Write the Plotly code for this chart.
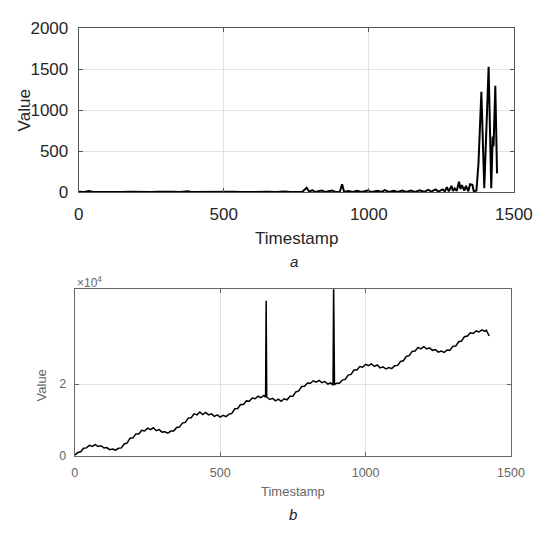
import plotly.graph_objects as go

W, H = 552, 533

# ---- panel a data ----
a_x = [0, 20, 35, 50, 75, 100, 125, 150, 175, 200, 225, 250, 275, 300, 325, 350, 375, 390,
       420, 450, 480, 500, 530, 560, 590, 620, 650, 680, 710, 730, 755, 770, 786, 795, 805,
       815, 838, 850, 873, 885, 900, 908, 915, 930, 945, 960, 975, 995, 1010, 1030, 1045,
       1055, 1070, 1085, 1100, 1115, 1130, 1145, 1160, 1175, 1190, 1205, 1215, 1230, 1240,
       1255, 1262, 1269, 1276, 1285, 1290, 1296, 1303, 1311, 1316, 1321, 1329, 1335, 1343,
       1349, 1357, 1362, 1371, 1378, 1388, 1398, 1404, 1413, 1422, 1427, 1430, 1436, 1442]
a_y = [5, 3, 14, 3, 4, 2, 6, 2, 5, 2, 6, 3, 7, 2, 6, 3, 12, 3,
       5, 2, 6, 2, 5, 2, 6, 2, 5, 2, 10, 3, 8, 3, 55, 5, 25,
       4, 20, 4, 22, 4, 5, 98, 4, 15, 3, 18, 3, 20, 3, 18, 4,
       25, 4, 18, 4, 20, 4, 20, 4, 22, 5, 30, 8, 35, 8,
       35, 10, 60, 12, 78, 15, 47, 15, 129, 40, 86, 20, 78, 12,
       98, 90, 10, 20, 350, 1224, 50, 640, 1530, 50, 680, 560, 1300, 230]

# ---- panel b data ----
b_x = [0, 10, 20, 30, 40, 50, 60, 70, 80, 90, 100, 110, 120, 130, 140, 150, 160, 170, 180, 190,
       200, 210, 220, 230, 240, 250, 260, 270, 280, 290, 300, 310, 320, 330, 340, 350, 360, 370,
       380, 390, 400, 410, 420, 430, 440, 450, 460, 470, 480, 490, 500, 510, 520, 530, 540, 550,
       560, 570, 580, 590, 600, 610, 620, 630, 640, 650, 656, 658, 660, 670, 680, 690, 700, 710,
       720, 730, 740, 750, 760, 770, 780, 790, 800, 810, 820, 830, 840, 850, 860, 870, 880, 888,
       890, 893, 900, 910, 920, 930, 940, 950, 960, 970, 980, 990, 1000, 1010, 1020, 1030, 1040,
       1050, 1060, 1070, 1080, 1090, 1100, 1110, 1120, 1130, 1140, 1150, 1160, 1170, 1180, 1190,
       1200, 1210, 1220, 1230, 1240, 1250, 1260, 1270, 1280, 1290, 1300, 1310, 1320, 1330, 1340,
       1350, 1360, 1370, 1380, 1390, 1400, 1410, 1415, 1420, 1425]
b_y = [200, 900, 1100, 2100, 2200, 2900, 2600, 3100, 2600, 2800, 2200, 2300, 1700, 1900, 1600,
       2100, 2200, 3300, 3600, 4900, 5000, 6100, 6100, 7100, 6900, 7700, 7300, 7800, 7000, 7300,
       6600, 6700, 6300, 6900, 6900, 7900, 8000, 9100, 9300, 10500, 10600, 11700, 11400, 12200,
       11500, 12100, 11400, 11700, 11000, 11400, 10800, 11300, 10900, 11600, 11800, 13100, 13200,
       14300, 14300, 15300, 15200, 16100, 15900, 16600, 16200, 16800, 16300, 43200, 16400, 15700,
       16000, 15300, 15800, 15200, 15900, 15600, 16600, 16600, 17800, 18100, 19300, 19400, 20300,
       20200, 20900, 20500, 21000, 20400, 20700, 20000, 20300, 19700, 47500, 19900, 20200, 20200,
       21100, 21300, 22500, 22700, 23900, 23900, 24900, 24700, 25500, 25100, 25600, 24900, 25300,
       24500, 24800, 24200, 24600, 24300, 25100, 25200, 26300, 26500, 27700, 27900, 29100, 29200,
       30200, 29800, 30400, 29800, 30100, 29400, 29600, 28900, 29200, 28800, 29500, 29400, 30500,
       30600, 31800, 32000, 33200, 33400, 34300, 34100, 34800, 34500, 35100, 34700, 35000, 34000,
       33400]

a_xticks = [0, 500, 1000, 1500]
a_yticks = [0, 500, 1000, 1500, 2000]
b_xticks = [0, 500, 1000, 1500]
b_yticks = [0, 20000]
b_yticktext = ["0", "2"]

FONT = "Liberation Sans, Arial, sans-serif"


def px(x):
    return x / W


def py(y):
    return 1 - y / H


fig = go.Figure()
fig.add_trace(go.Scatter(x=a_x, y=a_y, mode="lines", line=dict(color="black", width=2),
                         xaxis="x", yaxis="y", showlegend=False, hoverinfo="skip"))
fig.add_trace(go.Scatter(x=b_x, y=b_y, mode="lines", line=dict(color="black", width=1.5),
                         xaxis="x2", yaxis="y2", showlegend=False, hoverinfo="skip"))

axis_common = dict(showline=True, mirror="allticks", ticks="inside", ticklen=4,
                   showgrid=True, gridcolor="#e2e2e2", gridwidth=1, zeroline=False)

fig.update_layout(
    width=W, height=H, margin=dict(l=0, r=0, t=0, b=0),
    paper_bgcolor="white", plot_bgcolor="white",
    xaxis=dict(domain=[px(77), px(532)], range=[0, 1500], tickvals=a_xticks,
               anchor="y", linecolor="#555", tickcolor="#555", ticklabelstandoff=6,
               tickfont=dict(family=FONT, size=17, color="#262626"), **axis_common),
    yaxis=dict(domain=[py(190), py(20)], range=[0, 2000], tickvals=a_yticks,
               anchor="x", linecolor="#555", tickcolor="#555", ticklabelstandoff=6,
               tickfont=dict(family=FONT, size=17, color="#262626"), **axis_common),
    xaxis2=dict(domain=[px(73), px(529)], range=[0, 1500], tickvals=b_xticks,
                anchor="y2", linecolor="#666", tickcolor="#666", ticklabelstandoff=5,
                tickfont=dict(family=FONT, size=12.5, color="#666"), **axis_common),
    yaxis2=dict(domain=[py(463.3), py(290.7)], range=[0, 46400], tickvals=b_yticks,
                ticktext=b_yticktext, anchor="x2", linecolor="#666", tickcolor="#666",
                ticklabelstandoff=5,
                tickfont=dict(family=FONT, size=12.5, color="#666"), **axis_common),
)

ann = [
    dict(text="Value", x=px(20), y=py(105), textangle=-90,
         font=dict(family=FONT, size=17, color="#262626")),
    dict(text="Timestamp", x=px(305), y=py(238),
         font=dict(family=FONT, size=17, color="#262626")),
    dict(text="<i>a</i>", x=px(302), y=py(262),
         font=dict(family=FONT, size=15, color="#222")),
    dict(text="Value", x=px(38), y=py(390), textangle=-90,
         font=dict(family=FONT, size=13, color="#666")),
    dict(text="Timestamp", x=px(301), y=py(500),
         font=dict(family=FONT, size=13, color="#666")),
    dict(text="<i>b</i>", x=px(301), y=py(524),
         font=dict(family=FONT, size=15, color="#222")),
]
annotations = []
for a in ann:
    a.update(xref="paper", yref="paper", showarrow=False, xanchor="center", yanchor="middle")
    annotations.append(a)
annotations.append(dict(text="×10<sup>4</sup>", x=px(73), y=py(283), xref="paper", yref="paper",
                        showarrow=False, xanchor="left", yanchor="middle",
                        font=dict(family=FONT, size=12, color="#666")))
fig.update_layout(annotations=annotations)

fig.write_html("out.html",
               config={"displayModeBar": False},
               post_script="document.body.style.margin='0';document.body.style.overflow='hidden';")
